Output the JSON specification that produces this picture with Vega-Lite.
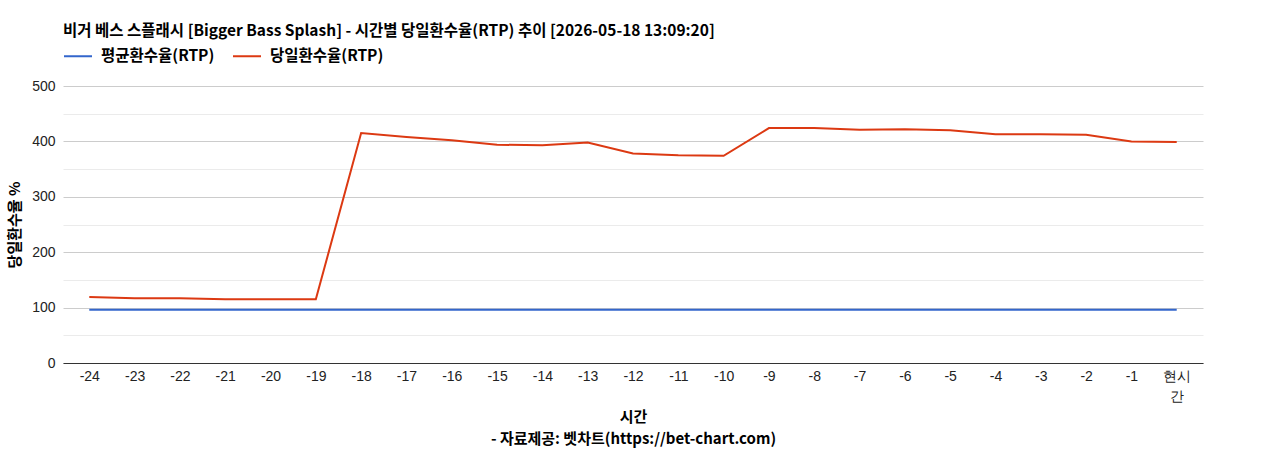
{
  "$schema": "https://vega.github.io/schema/vega-lite/v6.json",
  "width": 1140,
  "height": 277,
  "autosize": {"type": "none"},
  "padding": {"left": 63, "top": 86, "right": 65, "bottom": 87},
  "background": "white",
  "title": {
    "text": "비거 베스 스플래시 [Bigger Bass Splash] - 시간별 당일환수율(RTP) 추이 [2026-05-18 13:09:20]",
    "anchor": "start",
    "frame": "group",
    "font": "Noto Sans CJK KR",
    "fontSize": 15.5,
    "fontWeight": "bold",
    "color": "#000000",
    "offset": 2
  },
  "data": {
    "values": [
      {"time": "-24", "series": "평균환수율(RTP)", "value": 96}, {"time": "-24", "series": "당일환수율(RTP)", "value": 119},
      {"time": "-23", "series": "평균환수율(RTP)", "value": 96}, {"time": "-23", "series": "당일환수율(RTP)", "value": 117},
      {"time": "-22", "series": "평균환수율(RTP)", "value": 96}, {"time": "-22", "series": "당일환수율(RTP)", "value": 117},
      {"time": "-21", "series": "평균환수율(RTP)", "value": 96}, {"time": "-21", "series": "당일환수율(RTP)", "value": 115},
      {"time": "-20", "series": "평균환수율(RTP)", "value": 96}, {"time": "-20", "series": "당일환수율(RTP)", "value": 115},
      {"time": "-19", "series": "평균환수율(RTP)", "value": 96}, {"time": "-19", "series": "당일환수율(RTP)", "value": 115},
      {"time": "-18", "series": "평균환수율(RTP)", "value": 96}, {"time": "-18", "series": "당일환수율(RTP)", "value": 415},
      {"time": "-17", "series": "평균환수율(RTP)", "value": 96}, {"time": "-17", "series": "당일환수율(RTP)", "value": 408},
      {"time": "-16", "series": "평균환수율(RTP)", "value": 96}, {"time": "-16", "series": "당일환수율(RTP)", "value": 402},
      {"time": "-15", "series": "평균환수율(RTP)", "value": 96}, {"time": "-15", "series": "당일환수율(RTP)", "value": 394},
      {"time": "-14", "series": "평균환수율(RTP)", "value": 96}, {"time": "-14", "series": "당일환수율(RTP)", "value": 393},
      {"time": "-13", "series": "평균환수율(RTP)", "value": 96}, {"time": "-13", "series": "당일환수율(RTP)", "value": 398},
      {"time": "-12", "series": "평균환수율(RTP)", "value": 96}, {"time": "-12", "series": "당일환수율(RTP)", "value": 378},
      {"time": "-11", "series": "평균환수율(RTP)", "value": 96}, {"time": "-11", "series": "당일환수율(RTP)", "value": 375},
      {"time": "-10", "series": "평균환수율(RTP)", "value": 96}, {"time": "-10", "series": "당일환수율(RTP)", "value": 374},
      {"time": "-9", "series": "평균환수율(RTP)", "value": 96}, {"time": "-9", "series": "당일환수율(RTP)", "value": 424},
      {"time": "-8", "series": "평균환수율(RTP)", "value": 96}, {"time": "-8", "series": "당일환수율(RTP)", "value": 424},
      {"time": "-7", "series": "평균환수율(RTP)", "value": 96}, {"time": "-7", "series": "당일환수율(RTP)", "value": 421},
      {"time": "-6", "series": "평균환수율(RTP)", "value": 96}, {"time": "-6", "series": "당일환수율(RTP)", "value": 422},
      {"time": "-5", "series": "평균환수율(RTP)", "value": 96}, {"time": "-5", "series": "당일환수율(RTP)", "value": 420},
      {"time": "-4", "series": "평균환수율(RTP)", "value": 96}, {"time": "-4", "series": "당일환수율(RTP)", "value": 413},
      {"time": "-3", "series": "평균환수율(RTP)", "value": 96}, {"time": "-3", "series": "당일환수율(RTP)", "value": 413},
      {"time": "-2", "series": "평균환수율(RTP)", "value": 96}, {"time": "-2", "series": "당일환수율(RTP)", "value": 412},
      {"time": "-1", "series": "평균환수율(RTP)", "value": 96}, {"time": "-1", "series": "당일환수율(RTP)", "value": 400},
      {"time": "현시간", "series": "평균환수율(RTP)", "value": 96}, {"time": "현시간", "series": "당일환수율(RTP)", "value": 399}
    ]
  },
  "mark": {"type": "line", "strokeWidth": 2},
  "encoding": {
    "x": {
      "field": "time",
      "type": "ordinal",
      "sort": null,
      "scale": {"type": "point", "padding": 0.58},
      "axis": {
        "title": ["시간", "- 자료제공: 벳차트(https://bet-chart.com)"],
        "titleFont": "Noto Sans CJK KR",
        "titleFontSize": 15,
        "titleFontWeight": "bold",
        "titleColor": "#000000",
        "titleLineHeight": 22,
        "titlePadding": 6,
        "labelAngle": 0,
        "labelFont": "Liberation Sans",
        "labelFontSize": 14,
        "labelColor": "#222222",
        "labelPadding": 6,
        "labelLineHeight": 20,
        "labelExpr": "datum.label == '현시간' ? ['현시','간'] : datum.label",
        "ticks": false,
        "grid": false,
        "domain": true,
        "domainColor": "#333333",
        "domainWidth": 1
      }
    },
    "y": {
      "field": "value",
      "type": "quantitative",
      "scale": {"domain": [0, 500], "nice": false},
      "axis": {
        "title": "당일환수율 %",
        "titleFont": "Noto Sans CJK KR",
        "titleFontSize": 15,
        "titleFontWeight": "bold",
        "titleColor": "#000000",
        "titlePadding": 9,
        "values": [0, 50, 100, 150, 200, 250, 300, 350, 400, 450, 500],
        "labelExpr": "datum.value % 100 == 0 ? datum.label : ''",
        "labelFont": "Liberation Sans",
        "labelFontSize": 14,
        "labelColor": "#222222",
        "labelPadding": 8,
        "ticks": false,
        "domain": false,
        "grid": true,
        "gridColor": {"condition": {"test": "datum.value % 100 == 0", "value": "#cccccc"}, "value": "#ebebeb"},
        "gridWidth": 1
      }
    },
    "color": {
      "field": "series",
      "type": "nominal",
      "scale": {"domain": ["평균환수율(RTP)", "당일환수율(RTP)"], "range": ["#3366cc", "#dc3912"]},
      "legend": {
        "title": null,
        "orient": "top",
        "direction": "horizontal",
        "offset": 21,
        "symbolType": "stroke",
        "symbolStrokeWidth": 2,
        "symbolSize": 784,
        "labelFont": "Noto Sans CJK KR",
        "labelFontSize": 15.5,
        "labelFontWeight": "bold",
        "labelColor": "#000000",
        "labelOffset": 8,
        "columnPadding": 14,
        "padding": 0
      }
    }
  },
  "config": {"view": {"stroke": null}}
}
